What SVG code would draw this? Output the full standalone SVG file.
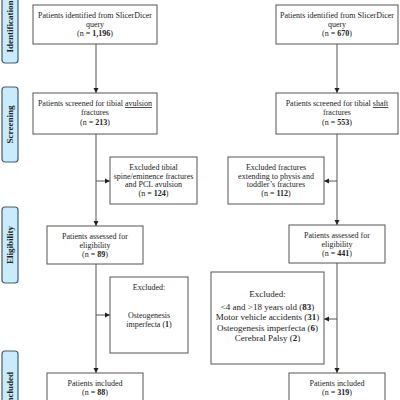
<svg xmlns="http://www.w3.org/2000/svg" width="400" height="400" viewBox="0 0 400 400">
<style>
.box{fill:#fff;stroke:#555;stroke-width:1}
.pill{fill:#c8ecfb;stroke:#4a5a66;stroke-width:1.2}
.t{font-family:"Liberation Serif","Times New Roman",serif;font-size:8px;fill:#222;text-anchor:middle}
.t9{font-size:9px}
.pl{font-family:"Liberation Serif","Times New Roman",serif;font-size:9px;font-weight:bold;fill:#222;text-anchor:middle}
.c{stroke:#555;stroke-width:1;fill:none}
.b{font-weight:bold}
.u{text-decoration:underline}
</style>
<defs>
<marker id="ah" markerWidth="6" markerHeight="6" refX="5" refY="3" orient="auto" markerUnits="userSpaceOnUse">
<path d="M0,0.5 L5,3 L0,5.5 Z" fill="#222"/>
</marker>
</defs>
<g id="stages">
<g id="stage-identification"><rect class="pill" x="2" y="-17" width="16" height="80" rx="3"/><text class="pl" transform="translate(13,26.5) rotate(-90)">Identification</text></g>
<g id="stage-screening"><rect class="pill" x="2" y="87" width="16" height="75" rx="3"/><text class="pl" transform="translate(13,124.5) rotate(-90)">Screening</text></g>
<g id="stage-eligibility"><rect class="pill" x="2" y="207" width="16" height="76" rx="3"/><text class="pl" transform="translate(13,245) rotate(-90)">Eligibility</text></g>
<g id="stage-included"><rect class="pill" x="2" y="351" width="16" height="76" rx="3"/><text class="pl" transform="translate(13,389) rotate(-90)">Included</text></g>
</g>
<g id="connectors">
<line class="c" x1="96" y1="44" x2="96" y2="93" marker-end="url(#ah)"/>
<line class="c" x1="96" y1="134" x2="96" y2="226" marker-end="url(#ah)"/>
<line class="c" x1="96" y1="181" x2="110" y2="181" marker-end="url(#ah)"/>
<line class="c" x1="96" y1="264" x2="96" y2="373" marker-end="url(#ah)"/>
<line class="c" x1="96" y1="315" x2="110" y2="315" marker-end="url(#ah)"/>
<line class="c" x1="337" y1="44" x2="337" y2="93" marker-end="url(#ah)"/>
<line class="c" x1="337" y1="134" x2="337" y2="225" marker-end="url(#ah)"/>
<line class="c" x1="337" y1="181" x2="324" y2="181" marker-end="url(#ah)"/>
<line class="c" x1="337" y1="263" x2="337" y2="373" marker-end="url(#ah)"/>
<line class="c" x1="337" y1="319" x2="324" y2="319" marker-end="url(#ah)"/>
</g>
<g id="left-identified"><rect class="box" x="33" y="5" width="124" height="39"/>
<text class="t" x="95" y="18">Patients identified from SlicerDicer</text>
<text class="t" x="95" y="27">query</text>
<text class="t" x="95" y="36">(n = <tspan class="b">1,196</tspan>)</text></g>
<g id="left-screened"><rect class="box" x="33" y="93" width="124" height="41"/>
<text class="t" x="95" y="106">Patients screened for tibial <tspan class="u">avulsion</tspan></text>
<text class="t" x="95" y="115">fractures</text>
<text class="t" x="95" y="124.5">(n = <tspan class="b">213</tspan>)</text></g>
<g id="left-excluded1"><rect class="box" x="110" y="157" width="87" height="47"/>
<text class="t" x="153.5" y="170">Excluded tibial</text>
<text class="t" x="153.5" y="178.5">spine/eminence fractures</text>
<text class="t" x="153.5" y="187">and PCL avulsion</text>
<text class="t" x="153.5" y="195.5">(n = <tspan class="b">124</tspan>)</text></g>
<g id="left-eligibility"><rect class="box" x="47" y="226" width="96" height="38"/>
<text class="t" x="95" y="239">Patients assessed for</text>
<text class="t" x="95" y="248">eligibility</text>
<text class="t" x="95" y="257">(n = <tspan class="b">89</tspan>)</text></g>
<g id="left-excluded2"><rect class="box" x="110" y="277" width="78" height="76"/>
<text class="t" x="149" y="290">Excluded:</text>
<text class="t" x="149" y="318">Osteogenesis</text>
<text class="t" x="149" y="327">imperfecta (<tspan class="b">1</tspan>)</text></g>
<g id="left-included"><rect class="box" x="47" y="373" width="96" height="38"/>
<text class="t" x="95" y="386">Patients included</text>
<text class="t" x="95" y="395">(n = <tspan class="b">88</tspan>)</text></g>
<g id="right-identified"><rect class="box" x="276" y="5" width="122" height="39"/>
<text class="t" x="337" y="18">Patients identified from SlicerDicer</text>
<text class="t" x="337" y="27">query</text>
<text class="t" x="337" y="36">(n = <tspan class="b">670</tspan>)</text></g>
<g id="right-screened"><rect class="box" x="276" y="93" width="122" height="41"/>
<text class="t" x="337" y="106">Patients screened for tibial <tspan class="u">shaft</tspan></text>
<text class="t" x="337" y="115">fractures</text>
<text class="t" x="337" y="124.5">(n = <tspan class="b">553</tspan>)</text></g>
<g id="right-excluded1"><rect class="box" x="228" y="157" width="96" height="47"/>
<text class="t" x="276" y="170">Excluded fractures</text>
<text class="t" x="276" y="178.5">extending to physis and</text>
<text class="t" x="276" y="187">toddler’s fractures</text>
<text class="t" x="276" y="195.5">(n = <tspan class="b">112</tspan>)</text></g>
<g id="right-eligibility"><rect class="box" x="289" y="225" width="96" height="38"/>
<text class="t" x="337" y="238">Patients assessed for</text>
<text class="t" x="337" y="247">eligibility</text>
<text class="t" x="337" y="256">(n = <tspan class="b">441</tspan>)</text></g>
<g id="right-excluded2"><rect class="box" x="211" y="272" width="113" height="92"/>
<text class="t t9" x="267.5" y="297">Excluded:</text>
<text class="t t9" x="267.5" y="310">&lt;4 and &gt;18 years old (<tspan class="b">83</tspan>)</text>
<text class="t t9" x="267.5" y="320">Motor vehicle accidents (<tspan class="b">31</tspan>)</text>
<text class="t t9" x="267.5" y="330.5">Osteogenesis imperfecta (<tspan class="b">6</tspan>)</text>
<text class="t t9" x="267.5" y="341">Cerebral Palsy (<tspan class="b">2</tspan>)</text></g>
<g id="right-included"><rect class="box" x="289" y="373" width="96" height="38"/>
<text class="t" x="337" y="385.5">Patients included</text>
<text class="t" x="337" y="395">(n = <tspan class="b">319</tspan>)</text></g>
</svg>
